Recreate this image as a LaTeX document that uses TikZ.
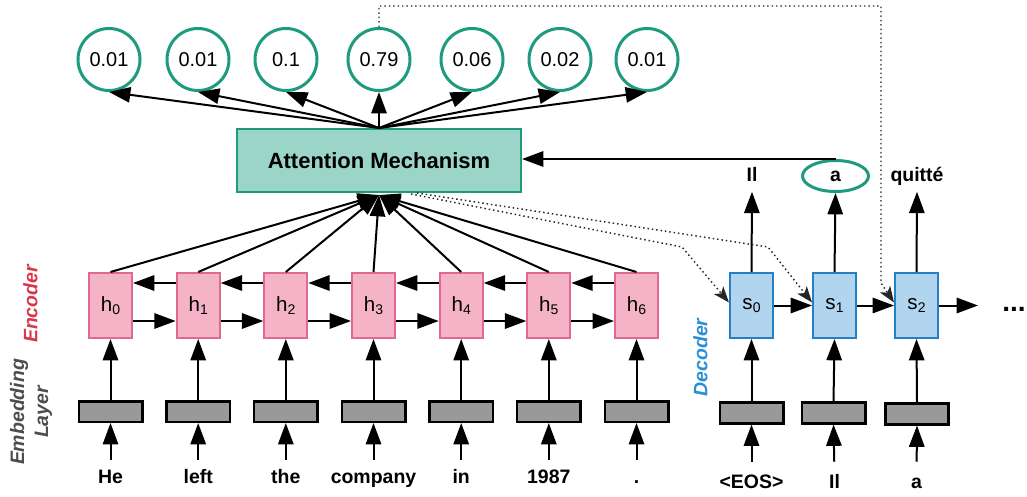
\documentclass[tikz,border=0pt]{standalone}
\usepackage{fontspec}
\setmainfont{Liberation Sans}
\usetikzlibrary{arrows.meta,calc,shapes.geometric}

\definecolor{attfill}{HTML}{9AD5C8}
\definecolor{attline}{HTML}{1E9A7F}
\definecolor{encfill}{HTML}{F4B3C7}
\definecolor{encline}{HTML}{E06A8F}
\definecolor{decfill}{HTML}{B1D5EF}
\definecolor{decline}{HTML}{2380C4}
\definecolor{embfill}{HTML}{999999}
\definecolor{enclab}{HTML}{D9374E}
\definecolor{declab}{HTML}{2B8FD6}
\definecolor{emblab}{HTML}{4D4D4D}

% lowered index for state names
\newcommand\stidx[1]{\raisebox{-2.2pt}{\fontsize{10.5}{11}\selectfont #1}}

\tikzset{
  prob/.style={circle, draw=attline, line width=2.25pt, minimum size=46.5pt,
    inner sep=0pt, font=\fontsize{15}{17}\selectfont},
  attn/.style={rectangle, draw=attline, fill=attfill, line width=1.5pt,
    minimum width=213pt, minimum height=47.25pt, inner sep=0pt,
    font=\bfseries\fontsize{16.5}{19}\selectfont},
  hbox/.style={rectangle, draw=encline, fill=encfill, line width=1.5pt,
    minimum width=32.25pt, minimum height=48.75pt, inner sep=0pt,
    font=\fontsize{15.4}{17}\selectfont},
  sbox/.style={hbox, draw=decline, fill=decfill},
  emb/.style={rectangle, draw=black, fill=embfill, line width=1.9pt,
    minimum width=47.6pt, minimum height=15.4pt, inner sep=0pt},
  word/.style={font=\bfseries\fontsize{14.6}{17}\selectfont, inner sep=0pt,
    text height=10.5pt, text depth=3pt, anchor=base},
  outw/.style={font=\bfseries\fontsize{14.6}{17}\selectfont, inner sep=0pt,
    text height=10.5pt, text depth=3pt, minimum height=23.25pt},
  outell/.style={ellipse, draw=attline, line width=2.25pt, inner sep=0pt,
    minimum width=49.5pt, minimum height=23.25pt,
    font=\bfseries\fontsize{14.6}{17}\selectfont},
  sidelab/.style={rotate=90, align=center,
    font=\bfseries\itshape\fontsize{14.6}{18}\selectfont},
  arr/.style={line width=1.5pt, -{Triangle[length=16pt,width=11.5pt]}},
  dots/.style={line width=1.1pt, black!85, dash pattern=on 1.1pt off 2.2pt,
    -{Stealth[length=12pt,width=9pt,inset=3pt]}},
}

\begin{document}
\begin{tikzpicture}[x=0.75pt,y=-0.75pt]
\useasboundingbox (0,0) rectangle (1027,496);

% attention weights and the attention block
\foreach \i/\x/\v in {0/109/0.01,1/198/0.01,2/286/0.1,3/379/0.79,4/472/0.06,5/560/0.02,6/647/0.01}
  \node[prob] (p\i) at (\x,59.5) {\v};
\node[attn] (att) at (379,160.5) {Attention Mechanism};
\foreach \i in {0,...,6}
  \draw[arr] (att.north) -- (p\i.south);
\coordinate (attin) at (379,195);

% encoder: embeddings, hidden states and input words
\foreach \i/\x/\w in {0/110.5/He,1/198.2/left,2/285.8/the,3/373.5/company,4/461.2/in,5/548.8/1987,6/636.5/.} {
  \node[hbox] (h\i) at (\x,305.5) {h\stidx{\i}};
  \node[emb] (e\i) at (\x,411.5) {};
  \node[word] (w\i) at (\x,483) {\w};
  \draw[arr] (e\i.north) -- (h\i.south);
  \draw[arr, shorten <=6.75pt] (w\i.north) -- (e\i.south);
  \draw[arr] (h\i.north) -- (attin);
}
\foreach \i/\j in {0/1,1/2,2/3,3/4,4/5,5/6} {
  \draw[arr] ($(h\j.west)+(0,-22.5)$) -- ($(h\i.east)+(0,-22.5)$);
  \draw[arr] ($(h\i.east)+(0,15.5)$) -- ($(h\j.west)+(0,15.5)$);
}

% decoder
\foreach \i/\x/\dx/\dy/\w in {0/751.5/751.5/413/{<EOS>},1/834.5/833.5/413/Il,2/916.5/917/414/a} {
  \node[sbox] (s\i) at (\x,305.5) {s\stidx{\i}};
  \node[emb] (d\i) at (\dx,\dy) {};
  \node[word] (v\i) at (\x,488) {\w};
  \draw[arr] (d\i.north) -- (s\i.south);
  \draw[arr, shorten <=9pt] (v\i.north) -- (d\i.south);
}
\node[outw] (o0) at (752,176) {Il};
\node[outell] (o1) at (835.5,176) {a};
\node[outw] (o2) at (917,176) {quitté};
\foreach \i in {0,1,2}
  \draw[arr] (s\i.north) -- (o\i.south);
\draw[arr] (o1.north) -- (o1.north -| att.east);

\draw[arr] (s0.east) -- (s1.west);
\draw[arr] (s1.east) -- (s2.west);
\coordinate (sout) at (978,305.5);
\draw[arr] (s2.east) -- (sout);
\node[font=\bfseries\fontsize{21}{21}\selectfont, anchor=base, inner sep=0pt] (more) at (1014,311) {...};

% context flow into the decoder states
\coordinate (k0) at (682,247);
\coordinate (k1) at (768,247);
\coordinate (t0) at (379,6);
\coordinate (t1) at (881,6);
\coordinate (t2) at (881,283);
\draw[dots] ($(att.south)+(32,1)$) -- (k0) -- ($(s0.west)+(0,-3)$);
\draw[dots] ($(att.south)+(38,0)$) -- (k1) -- ($(s1.west)+(0,-3)$);
\draw[dots] (p3.north) -- (t0) -- (t1) -- (t2) -- ($(s2.west)+(0,-3)$);

% side labels
\node[sidelab, text=enclab] (enclabel) at (30.5,304) {Encoder};
\node[sidelab, text=emblab] (emblabel) at (31,412) {Embedding\\Layer};
\node[sidelab, text=declab] (declabel) at (700.5,357.5) {Decoder};
\end{tikzpicture}
\end{document}
